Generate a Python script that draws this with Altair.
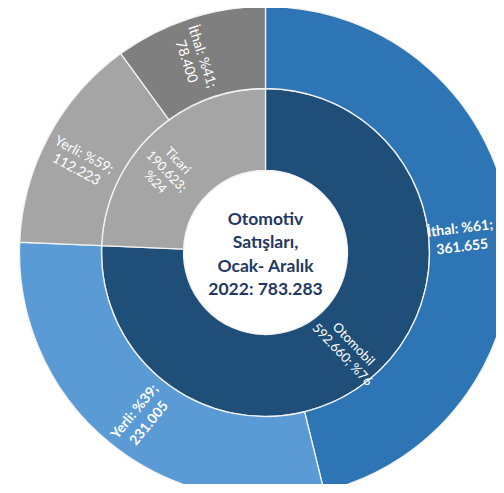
import math
import altair as alt
import pandas as pd

# ---- data ----
inner_labels = ["Otomobil", "Ticari"]
inner_values = [592660, 190623]
inner_pct = [76, 24]

outer_parent = ["Otomobil", "Otomobil", "Ticari", "Ticari"]
outer_labels = ["İthal", "Yerli", "Yerli", "İthal"]
outer_values = [361655, 231005, 112223, 78400]
outer_pct = [61, 39, 59, 41]

center_lines = ["Otomotiv", "Satışları,", "Ocak- Aralık", "2022: 783.283"]

# ---- styles ----
inner_colors = ["#1F4E79", "#A5A5A5"]
outer_colors = ["#2E75B6", "#5B9BD5", "#A5A5A5", "#7F7F7F"]
FONT = "Lato"


def fmt(v):
    return f"{v:,}".replace(",", ".")


total = sum(inner_values)


def build(values):
    starts, ends, mids, angles = [], [], [], []
    acc = 0
    for v in values:
        s, e = acc, acc + v
        acc = e
        m = (s + e) / 2
        deg = m / total * 360 - 90
        if deg > 90:
            deg -= 180
        starts.append(s)
        ends.append(e)
        mids.append(m)
        angles.append(deg % 360)
    return starts, ends, mids, angles


s, e, m, a = build(inner_values)
inner_df = pd.DataFrame({
    "key": [f"in_{l}" for l in inner_labels],
    "start": s, "end": e, "mid": m, "ang": a,
    "label": [
        f"{inner_labels[0]}\n{fmt(inner_values[0])}; %{inner_pct[0]}",
        f"{inner_labels[1]}\n{fmt(inner_values[1])};\n%{inner_pct[1]}",
    ],
})

s, e, m, a = build(outer_values)
outer_df = pd.DataFrame({
    "key": [f"out_{p}_{l}" for p, l in zip(outer_parent, outer_labels)],
    "parent": outer_parent,
    "start": s, "end": e, "mid": m, "ang": a,
    "label": [f"{l}: %{p};\n{fmt(v)}" for l, p, v in zip(outer_labels, outer_pct, outer_values)],
})

keys = list(inner_df["key"]) + list(outer_df["key"])
colors = inner_colors + outer_colors

cx, cy = 257.5, 244.5
R0, R1, R2 = 82, 164, 246
LH = 23.5

theta_scale = alt.Scale(domain=[0, total], range=[0, 2 * math.pi])
color = alt.Color("key:N", scale=alt.Scale(domain=keys, range=colors), legend=None)
X = alt.value(cx)
Y = alt.value(cy)

inner_arc = alt.Chart(inner_df).mark_arc(
    innerRadius=R0, outerRadius=R1, stroke="#F2F2F2", strokeWidth=1.3
).encode(
    theta=alt.Theta("start:Q", scale=theta_scale, stack=None),
    theta2="end:Q",
    color=color, x=X, y=Y,
)

outer_arc = alt.Chart(outer_df).mark_arc(
    innerRadius=R1, outerRadius=R2, stroke="#F2F2F2", strokeWidth=1.3
).encode(
    theta=alt.Theta("start:Q", scale=theta_scale, stack=None),
    theta2="end:Q",
    color=color, x=X, y=Y,
)

inner_text = alt.Chart(inner_df).mark_text(
    font=FONT, fontSize=13, color="white", lineBreak="\n", lineHeight=15.5,
    align="center", baseline="middle",
).encode(
    theta=alt.Theta("mid:Q", scale=theta_scale, stack=None),
    radius=alt.value(127),
    angle=alt.Angle("ang:Q", scale=None),
    text="label:N", x=X, y=Y,
)


def bold_label(key, r):
    return alt.Chart(outer_df).transform_filter(
        alt.datum.key == key
    ).mark_text(
        font=FONT, fontSize=14, fontWeight="bold", color="white", lineBreak="\n", lineHeight=18.5,
        align="center", baseline="middle",
    ).encode(
        theta=alt.Theta("mid:Q", scale=theta_scale, stack=None),
        radius=alt.value(r),
        angle=alt.Angle("ang:Q", scale=None),
        text="label:N", x=X, y=Y,
    )


text_ithal = bold_label(outer_df["key"][0], 196)
text_yerli = bold_label(outer_df["key"][1], 206)

outer_text = alt.Chart(outer_df).transform_filter(
    alt.datum.parent == "Ticari"
).mark_text(
    font=FONT, fontSize=14, color="white", lineBreak="\n", lineHeight=16.5,
    align="center", baseline="middle",
).encode(
    theta=alt.Theta("mid:Q", scale=theta_scale, stack=None),
    radius=alt.value(206),
    angle=alt.Angle("ang:Q", scale=None),
    text="label:N", x=X, y=Y,
)

center_text = alt.Chart(pd.DataFrame({"t": [0]})).mark_text(
    font=FONT, fontSize=17.5, fontWeight="bold", color="#1F3864", lineHeight=LH,
    align="center", baseline="middle",
).encode(
    text=alt.value(center_lines), x=X, y=alt.value(cy + 2.5 - 1.5 * LH),
)

chart = alt.layer(
    inner_arc, outer_arc, inner_text, text_ithal, text_yerli, outer_text, center_text
).properties(
    width=488, height=476, padding=0, autosize=alt.AutoSizeParams(type="none"),
).configure_view(stroke=None)

chart.save("out.html", embed_options={"renderer": "svg", "actions": False})
